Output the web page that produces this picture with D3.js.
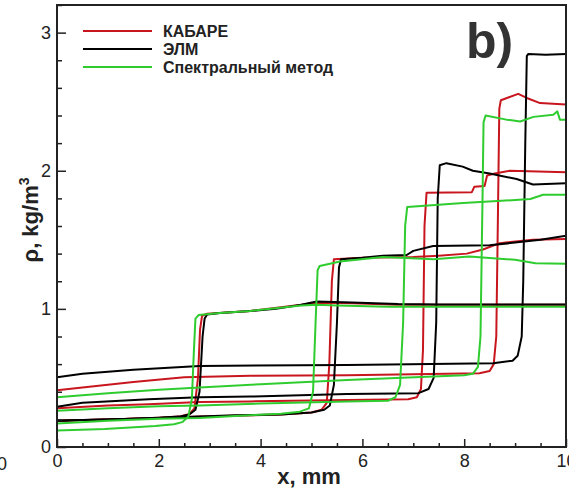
<!DOCTYPE html>
<html><head><meta charset="utf-8">
<script src="https://cdn.jsdelivr.net/npm/d3@7/dist/d3.min.js"></script>
<style>
html,body{margin:0;padding:0;background:#fff;overflow:hidden;}
svg{display:block;}
</style></head>
<body>
<script>
// ---- data ----
const seriesNames = ["КАБАРЕ", "ЭЛМ", "Спектральный метод"];
const seriesColors = ["#c8161e", "#000000", "#2fcc2f"];
const xTicks = [0, 2, 4, 6, 8, 10];
const yTicks = [0, 1, 2, 3];
const xLabel = "x, mm";
const panelLabel = "b)";

// КАБАРЕ (red) – four time snapshots
const kabare1 = [[0,0.19],[1,0.2],[2,0.212],[2.4,0.22],[2.6,0.24],[2.7,0.28],[2.77,0.5],[2.81,0.85],[2.85,0.95],[2.95,0.965],[3.8,0.985],[4.8,1.03],[5.1,1.045],[5.8,1.04],[6.7,1.03],[10,1.03]];
const kabare2 = [[0,0.19],[1,0.2],[2,0.21],[2.8,0.22],[4.4,0.235],[5.0,0.25],[5.2,0.27],[5.3,0.32],[5.35,0.6],[5.4,1.2],[5.44,1.36],[6.0,1.37],[7.0,1.375],[7.5,1.385],[8.05,1.40],[8.37,1.43],[8.7,1.476],[9.35,1.5],[10,1.505]];
const kabare3 = [[0,0.28],[1,0.3],[1.8,0.31],[2.8,0.325],[3.8,0.33],[5.7,0.34],[6.9,0.345],[7.07,0.36],[7.15,0.42],[7.19,0.7],[7.22,1.6],[7.26,1.84],[8.15,1.845],[8.2,1.885],[8.4,1.89],[8.45,1.965],[8.6,1.98],[8.9,2.0],[10,1.99]];
const kabare4 = [[0,0.41],[0.5,0.43],[1.5,0.47],[2.5,0.505],[3.8,0.515],[5.7,0.52],[8.3,0.534],[8.5,0.55],[8.58,0.6],[8.63,0.8],[8.66,1.6],[8.69,2.45],[8.72,2.51],[9.06,2.557],[9.23,2.527],[9.49,2.49],[10,2.48]];

// ЭЛМ (black)
const elm1 = [[0,0.19],[0.5,0.195],[1.0,0.2],[1.5,0.205],[2.0,0.212],[2.4,0.22],[2.6,0.235],[2.72,0.27],[2.8,0.4],[2.86,0.8],[2.9,0.93],[2.95,0.96],[3.2,0.97],[3.8,0.985],[4.3,1.0],[4.8,1.03],[5.1,1.053],[5.8,1.046],[6.7,1.035],[7.5,1.032],[10,1.032]];
const elm2 = [[0,0.19],[0.5,0.195],[1,0.2],[2,0.21],[2.8,0.22],[3.5,0.23],[4.4,0.235],[5.0,0.25],[5.25,0.27],[5.36,0.3],[5.44,0.45],[5.5,0.9],[5.54,1.3],[5.58,1.36],[6.0,1.37],[6.4,1.384],[6.87,1.39],[7.0,1.42],[7.39,1.455],[8.5,1.46],[9.0,1.48],[9.5,1.5],[10,1.53]];
const elm3 = [[0,0.292],[0.5,0.32],[1.8,0.345],[2.8,0.36],[3.8,0.365],[5.7,0.384],[7.1,0.39],[7.3,0.42],[7.4,0.5],[7.45,0.9],[7.48,1.8],[7.52,2.04],[7.65,2.055],[7.97,2.03],[8.17,2.0],[8.5,1.98],[9.03,1.94],[9.35,1.90],[10,1.91]];
const elm4 = [[0,0.505],[0.5,0.53],[1.5,0.56],[2.8,0.587],[5.7,0.594],[8.57,0.606],[8.95,0.625],[9.05,0.66],[9.13,0.8],[9.16,1.2],[9.2,2.2],[9.23,2.83],[9.26,2.846],[9.6,2.84],[10,2.845]];

// Спектральный метод (green)
const spec1 = [[0,0.12],[0.94,0.13],[1.93,0.152],[2.3,0.165],[2.46,0.18],[2.58,0.22],[2.65,0.35],[2.69,0.7],[2.72,0.93],[2.78,0.955],[3.2,0.97],[3.8,0.985],[4.8,1.025],[5.1,1.03],[5.5,1.025],[6.5,1.015],[10,1.015]];
const spec2 = [[0,0.17],[1,0.19],[2,0.205],[2.8,0.21],[3.5,0.225],[4.4,0.24],[4.77,0.256],[4.95,0.28],[5.03,0.4],[5.08,0.9],[5.12,1.28],[5.16,1.31],[5.56,1.343],[6.4,1.375],[7.4,1.36],[8.1,1.38],[9.0,1.355],[9.4,1.33],[10,1.326]];
const spec3 = [[0,0.263],[1,0.28],[2,0.295],[2.8,0.30],[4,0.315],[5.7,0.33],[6.5,0.335],[6.65,0.36],[6.74,0.45],[6.8,0.9],[6.84,1.6],[6.88,1.737],[7.98,1.766],[9.3,1.795],[9.55,1.826],[10,1.826]];
const spec4 = [[0,0.36],[1,0.39],[2,0.415],[2.8,0.43],[4,0.455],[5.7,0.485],[8.0,0.52],[8.17,0.53],[8.27,0.58],[8.32,0.8],[8.36,1.8],[8.38,2.35],[8.42,2.40],[8.83,2.37],[9.1,2.357],[9.36,2.39],[9.75,2.406],[9.83,2.43],[9.88,2.37],[10,2.37]];

const kabareCurves = [kabare1, kabare2, kabare3, kabare4];
const elmCurves = [elm1, elm2, elm3, elm4];
const specCurves = [spec1, spec2, spec3, spec4];

// ---- drawing ----
const W = 569, H = 489;
const mLeft = 57, mRight = 566, mTop = 5, mBottom = 447;
const svg = d3.select("body").append("svg").attr("width", W).attr("height", H);
const font = "'Liberation Sans', Arial, sans-serif";

const x = d3.scaleLinear().domain([0, 10]).range([mLeft, mRight]);
const y = d3.scaleLinear().domain([0, 3.2]).range([mBottom, mTop]);

svg.append("clipPath").attr("id", "clip").append("rect")
  .attr("x", mLeft).attr("y", mTop).attr("width", mRight - mLeft).attr("height", mBottom - mTop);

const line = d3.line().x(d => x(d[0])).y(d => y(d[1]));
const g = svg.append("g").attr("clip-path", "url(#clip)");
const groups = [kabareCurves, elmCurves, specCurves];
groups.forEach((curves, i) => {
  curves.forEach(c => {
    g.append("path").datum(c).attr("d", line)
      .attr("fill", "none").attr("stroke", seriesColors[i])
      .attr("stroke-width", 2).attr("stroke-linejoin", "round");
  });
});

// axes
const xMinor = d3.range(0, 10.01, 0.5).filter(v => Math.abs(v % 2) > 1e-6);
const yMinor = d3.range(0, 3.21, 0.2).filter(v => Math.abs(v - Math.round(v)) > 1e-6);

svg.append("g").attr("transform", `translate(0,${mBottom})`)
  .call(d3.axisBottom(x).tickValues(xTicks).tickSize(-8).tickPadding(7).tickFormat(d3.format("d")));
svg.append("g").attr("transform", `translate(0,${mBottom})`)
  .call(d3.axisBottom(x).tickValues(xMinor).tickSize(-4).tickFormat(""));
svg.append("g").attr("transform", `translate(${mLeft},0)`)
  .call(d3.axisLeft(y).tickValues(yTicks).tickSize(-9).tickPadding(6).tickFormat(d3.format("d")));
svg.append("g").attr("transform", `translate(${mLeft},0)`)
  .call(d3.axisLeft(y).tickValues(yMinor).tickSize(-5).tickFormat(""));

svg.selectAll(".domain").remove();
svg.selectAll(".tick line").attr("stroke", "#222").attr("stroke-width", 1.5);
svg.selectAll(".tick text").attr("font-family", font).attr("font-size", 18).attr("fill", "#222");

// frame
svg.append("rect").attr("x", mLeft).attr("y", mTop).attr("width", mRight - mLeft).attr("height", mBottom - mTop)
  .attr("fill", "none").attr("stroke", "#222").attr("stroke-width", 2);

// remnant of neighbouring panel's tick label
svg.append("text").attr("x", -3).attr("y", 470).attr("text-anchor", "middle")
  .attr("font-family", font).attr("font-size", 18).attr("fill", "#222").text("10");

// axis titles
svg.append("text").attr("x", 309).attr("y", 484).attr("text-anchor", "middle")
  .attr("font-family", font).attr("font-size", 22).attr("font-weight", "bold").attr("fill", "#222").text(xLabel);

const yt = svg.append("text").attr("transform", "translate(38,220) rotate(-90)").attr("text-anchor", "middle")
  .attr("font-family", font).attr("font-size", 22).attr("font-weight", "bold").attr("fill", "#222");
yt.append("tspan").text("ρ, kg/m");
yt.append("tspan").attr("dy", -9).attr("font-size", 14).text("3");

// panel label
svg.append("text").attr("x", 466).attr("y", 58).attr("font-family", font)
  .attr("font-size", 50).attr("font-weight", "bold").attr("fill", "#333").text(panelLabel);

// legend
const legY = [31, 49, 67];
seriesNames.forEach((n, i) => {
  svg.append("line").attr("x1", 83).attr("x2", 152).attr("y1", legY[i]).attr("y2", legY[i])
    .attr("stroke", seriesColors[i]).attr("stroke-width", 2);
  svg.append("text").attr("x", 163).attr("y", legY[i]).attr("dy", "0.36em")
    .attr("font-family", font).attr("font-size", 16).attr("font-weight", "bold").attr("fill", "#222").text(n);
});
</script>
</body></html>
